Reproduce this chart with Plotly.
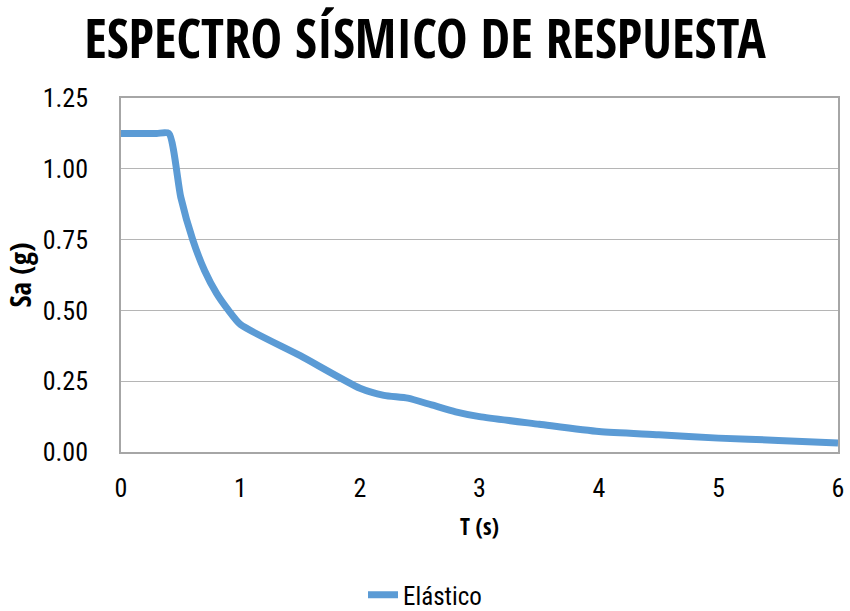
import plotly.graph_objects as go

# Period T (s) and spectral acceleration Sa (g)
T = [0, 0.1, 0.2, 0.3, 0.4, 0.5, 0.6, 0.7, 0.8, 0.9, 1.0, 1.5, 2.0, 2.2, 2.4,
     2.6, 2.8, 3.0, 3.5, 4.0, 4.5, 5.0, 5.5, 6.0]
Sa = [1.125, 1.125, 1.125, 1.125, 1.125, 0.90, 0.75, 0.64, 0.56, 0.50, 0.45,
      0.34, 0.225, 0.20, 0.19, 0.166, 0.142, 0.125, 0.098, 0.072, 0.061,
      0.049, 0.041, 0.032]
series_name = "Elástico"
title_text = "ESPECTRO SÍSMICO DE RESPUESTA"
x_ticks = [0, 1, 2, 3, 4, 5, 6]
y_ticks = [0, 0.25, 0.5, 0.75, 1.0, 1.25]

FONT = "Roboto Condensed, Liberation Sans, sans-serif"
BOLD = "Open Sans Condensed, Roboto Condensed, sans-serif"

fig = go.Figure()
fig.add_trace(go.Scatter(
    x=T, y=Sa, mode="lines", name=series_name,
    line=dict(color="#5B9BD5", width=7, shape="spline", smoothing=0.6),
))

fig.update_layout(
    width=850, height=611,
    paper_bgcolor="white", plot_bgcolor="white",
    margin=dict(l=121, r=12, t=98, b=159),
    font=dict(family=FONT, color="black", size=26),
    title=dict(text="<b>" + title_text + "</b>", font=dict(family=BOLD, size=53, color="black"),
               x=0.5, xanchor="center", xref="container",
               y=1 - 39 / 611, yanchor="middle", yref="container"),
    showlegend=True,
    legend=dict(orientation="h", xref="container", x=0.5, xanchor="center",
                yref="container", y=1 - 595 / 611, yanchor="middle",
                font=dict(family=FONT, size=25)),
)
fig.update_xaxes(
    range=[0, 6], tickvals=x_ticks, ticktext=[str(v) for v in x_ticks],
    showgrid=False, zeroline=False, automargin=False,
    showline=True, linecolor="#A6A6A6", linewidth=1.5, mirror=True,
    ticks="", ticklabelstandoff=12,
    tickfont=dict(family=FONT, size=26),
    title=dict(text="<b>T (s)</b>", font=dict(family=BOLD, size=23), standoff=17),
)
fig.update_yaxes(
    range=[0, 1.25], tickvals=y_ticks, ticktext=[f"{v:.2f}" for v in y_ticks],
    showgrid=True, gridcolor="#B5B5B5", gridwidth=1.2, zeroline=False, automargin=False,
    showline=True, linecolor="#A6A6A6", linewidth=1.5, mirror=True,
    ticks="", ticklabelstandoff=26,
    tickfont=dict(family=FONT, size=26),
    title=dict(text="<b>Sa (g)</b>", font=dict(family=BOLD, size=29), standoff=4),
)

fig.write_html("out.html")
